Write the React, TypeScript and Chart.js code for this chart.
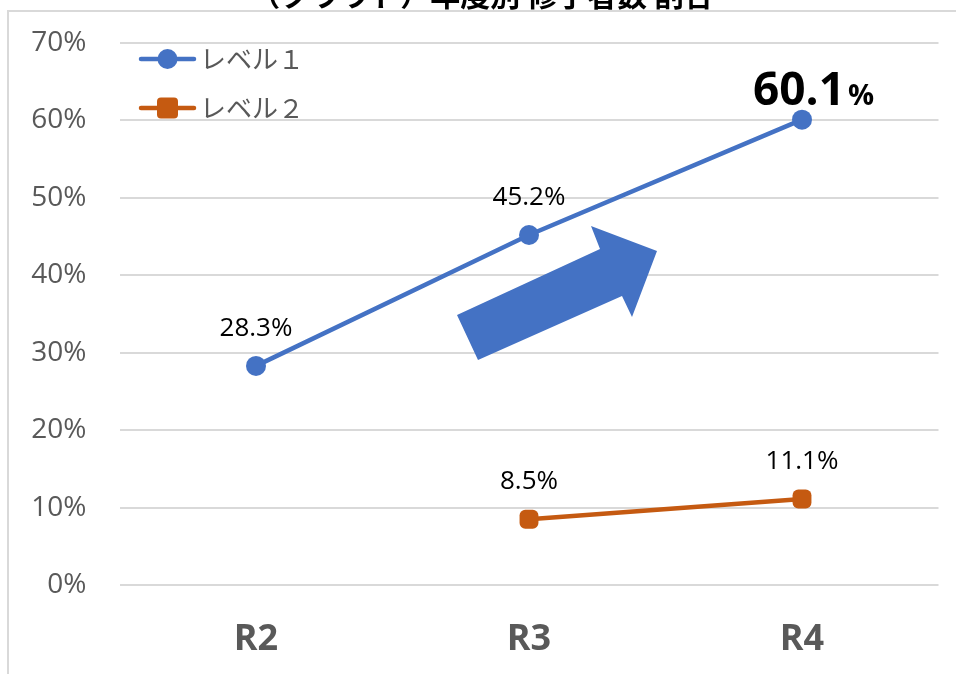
import React, { useEffect, useRef } from "react";
import { Chart, registerables } from "chart.js";

Chart.register(...registerables);

const titleText = "（クラウド）年度別 修了者数 割合";
const categories = ["R2", "R3", "R4"];
const level1Name = "レベル１";
const level2Name = "レベル２";
const level1Values: (number | null)[] = [28.3, 45.2, 60.1];
const level2Values: (number | null)[] = [null, 8.5, 11.1];
const yTicks = [0, 10, 20, 30, 40, 50, 60, 70];

const BLUE = "#4472C4";
const ORANGE = "#C55A11";
const GRAY = "#595959";
const GRID = "#D9D9D9";
const FONT = "'Open Sans', 'Noto Sans CJK JP', sans-serif";
const JP_FONT = "'Noto Sans CJK JP', 'Open Sans', sans-serif";

// Frame lines and the (partly cut) title above the plot
const framePlugin = {
  id: "frame",
  beforeDraw(chart: any) {
    const { ctx, width, height } = chart;
    ctx.save();
    ctx.fillStyle = "#fff";
    ctx.fillRect(0, 0, width, height);
    ctx.strokeStyle = GRID;
    ctx.lineWidth = 2;
    ctx.beginPath();
    ctx.moveTo(8, height);
    ctx.lineTo(8, 11);
    ctx.lineTo(width, 11);
    ctx.stroke();
    ctx.fillStyle = "#000";
    ctx.font = `bold 30px ${JP_FONT}`;
    ctx.textAlign = "center";
    ctx.textBaseline = "alphabetic";
    ctx.fillText(titleText, 482, 6);
    ctx.restore();
  },
};

// Legend drawn inside the top-left corner of the plot
const insideLegendPlugin = {
  id: "insideLegend",
  afterDraw(chart: any) {
    const { ctx } = chart;
    ctx.save();
    chart.data.datasets.forEach((ds: any, i: number) => {
      const y = 59 + i * 49;
      const x0 = 141;
      const x1 = 194;
      const cx = (x0 + x1) / 2;
      ctx.strokeStyle = ds.borderColor;
      ctx.lineWidth = 4.5;
      ctx.lineCap = "round";
      ctx.beginPath();
      ctx.moveTo(x0, y);
      ctx.lineTo(x1, y);
      ctx.stroke();
      ctx.fillStyle = ds.borderColor;
      if (ds.pointStyle === "rectRounded") {
        const s = 21;
        ctx.beginPath();
        (ctx as any).roundRect(cx - s / 2, y - s / 2, s, s, 4);
        ctx.fill();
      } else {
        ctx.beginPath();
        ctx.arc(cx, y, 10, 0, Math.PI * 2);
        ctx.fill();
      }
      ctx.fillStyle = GRAY;
      ctx.font = `26px ${JP_FONT}`;
      ctx.textAlign = "left";
      ctx.textBaseline = "middle";
      ctx.fillText(ds.label, 200, y);
    });
    ctx.restore();
  },
};

// Value labels above each point; the latest level 1 value is emphasised
const valueLabelPlugin = {
  id: "valueLabels",
  afterDatasetsDraw(chart: any) {
    const { ctx } = chart;
    ctx.save();
    ctx.fillStyle = "#000";
    ctx.textBaseline = "alphabetic";
    chart.data.datasets.forEach((ds: any, di: number) => {
      const meta = chart.getDatasetMeta(di);
      ds.data.forEach((v: number | null, i: number) => {
        if (v == null) return;
        const pt = meta.data[i];
        const emphasis = di === 0 && i === ds.data.length - 1;
        if (emphasis) {
          const num = v.toFixed(1);
          ctx.font = `bold 46px ${FONT}`;
          const w1 = ctx.measureText(num).width;
          ctx.font = `bold 29px ${FONT}`;
          const w2 = ctx.measureText("%").width;
          const left = pt.x + 10 - (w1 + w2) / 2;
          ctx.textAlign = "left";
          ctx.font = `bold 46px ${FONT}`;
          ctx.fillText(num, left, pt.y - 15);
          ctx.font = `bold 29px ${FONT}`;
          ctx.fillText("%", left + w1 + 3, pt.y - 15);
        } else {
          ctx.font = `26px ${FONT}`;
          ctx.textAlign = "center";
          ctx.fillText(v.toFixed(1) + "%", pt.x, pt.y - 30);
        }
      });
    });
    ctx.restore();
  },
};

// Upward arrow shape placed between the two series
const arrowPlugin = {
  id: "trendArrow",
  afterDatasetsDraw(chart: any) {
    const { ctx } = chart;
    const pts = [
      [457, 315],
      [600, 249],
      [591, 226],
      [657, 251],
      [632, 317],
      [622, 296],
      [478, 360],
    ];
    ctx.save();
    ctx.fillStyle = BLUE;
    ctx.beginPath();
    pts.forEach(([x, y], i) => (i === 0 ? ctx.moveTo(x, y) : ctx.lineTo(x, y)));
    ctx.closePath();
    ctx.fill();
    ctx.restore();
  },
};

export default function App() {
  const canvasRef = useRef<HTMLCanvasElement | null>(null);

  useEffect(() => {
    if (!canvasRef.current) return;
    const chart = new Chart(canvasRef.current, {
      type: "line",
      data: {
        labels: categories,
        datasets: [
          {
            label: level1Name,
            data: level1Values,
            borderColor: BLUE,
            backgroundColor: BLUE,
            borderWidth: 4.5,
            pointStyle: "circle",
            pointRadius: 10,
            pointHoverRadius: 10,
            pointBorderWidth: 0,
          },
          {
            label: level2Name,
            data: level2Values,
            borderColor: ORANGE,
            backgroundColor: ORANGE,
            borderWidth: 4.5,
            pointStyle: "rectRounded",
            pointRadius: 11,
            pointHoverRadius: 11,
            pointBorderWidth: 0,
          },
        ],
      },
      options: {
        animation: false,
        responsive: false,
        maintainAspectRatio: false,
        layout: { padding: { top: 43, right: 17.5, left: 0, bottom: 0 } },
        plugins: {
          legend: { display: false },
          tooltip: { enabled: false },
          title: { display: false },
        },
        scales: {
          x: {
            offset: true,
            grid: { display: false, drawTicks: false },
            border: { display: false },
            ticks: {
              color: GRAY,
              font: { family: FONT, size: 36, weight: "bold" },
              padding: 33,
            },
            afterFit(scale: any) {
              scale.height = 89;
            },
          },
          y: {
            min: 0,
            max: 70,
            afterBuildTicks(scale: any) {
              scale.ticks = yTicks.map((v) => ({ value: v }));
            },
            grid: { color: GRID, lineWidth: 2, drawTicks: false },
            border: { display: false },
            ticks: {
              color: GRAY,
              font: { family: FONT, size: 28 },
              padding: 33,
              callback: (v: any) => `${v}%`,
            },
            afterFit(scale: any) {
              scale.width = 119.5;
              scale.paddingTop = 0;
              scale.paddingBottom = 0;
            },
          },
        },
      },
      plugins: [framePlugin, arrowPlugin, valueLabelPlugin, insideLegendPlugin],
    });
    return () => chart.destroy();
  }, []);

  return (
    <div style={{ position: "fixed", left: 0, top: 0, width: 956, height: 674, background: "#fff" }}>
      <canvas ref={canvasRef} width={956} height={674} style={{ width: 956, height: 674, display: "block" }} />
    </div>
  );
}
